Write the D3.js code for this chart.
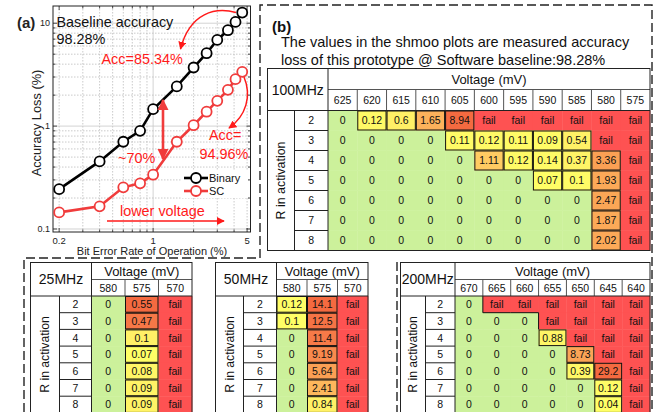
<!DOCTYPE html>
<html><head><meta charset="utf-8">
<script src="https://cdn.jsdelivr.net/npm/d3@7"></script>
<style>
html,body{margin:0;padding:0;background:#fff;}
svg{display:block;font-family:"Liberation Sans",Arial,sans-serif;}
</style></head>
<body>
<svg id="chart" width="659" height="412"></svg>
<script>
// ---------- Data: panel (a) ----------
const berX = [0.2, 0.4, 0.6, 0.8, 1.0, 1.5, 2.0, 2.5, 3.0, 3.6, 4.1, 4.6];
const lossBinary = [0.244, 0.454, 0.705, 0.90, 1.46, 2.43, 3.71, 5.11, 6.88, 8.55, 10.3, 12.7];
const lossSC = [0.145, 0.166, 0.254, 0.278, 0.337, 0.705, 1.02, 1.38, 1.76, 2.25, 2.86, 3.37];
const xTickLabels = [0.2, 1, 5];
const yTickLabels = [0.1, 1, 10];
const seriesNames = ["Binary", "SC"];

// ---------- Data: panel (b) shmoo tables ----------
const F = "fail";
const rowsR = [2, 3, 4, 5, 6, 7, 8];
const volt100 = [625, 620, 615, 610, 605, 600, 595, 590, 585, 580, 575];
const loss100 = [
  [0, 0.12, 0.6, 1.65, 8.94, F, F, F, F, F, F],
  [0, 0, 0, 0, 0.11, 0.12, 0.11, 0.09, 0.54, F, F],
  [0, 0, 0, 0, 0, 1.11, 0.12, 0.14, 0.37, 3.36, F],
  [0, 0, 0, 0, 0, 0, 0, 0.07, 0.1, 1.93, F],
  [0, 0, 0, 0, 0, 0, 0, 0, 0, 2.47, F],
  [0, 0, 0, 0, 0, 0, 0, 0, 0, 1.87, F],
  [0, 0, 0, 0, 0, 0, 0, 0, 0, 2.02, F]
];
const volt25 = [580, 575, 570];
const loss25 = [
  [0, 0.55, F], [0, 0.47, F], [0, 0.1, F], [0, 0.07, F], [0, 0.08, F], [0, 0.09, F], [0, 0.09, F]
];
const volt50 = [580, 575, 570];
const loss50 = [
  [0.12, 14.1, F], [0.1, 12.5, F], [0, 11.4, F], [0, 9.19, F], [0, 5.64, F], [0, 2.41, F], [0, 0.84, F]
];
const volt200 = [670, 665, 660, 655, 650, 645, 640];
const loss200 = [
  [0, F, F, F, F, F, F],
  [0, 0, 0, F, F, F, F],
  [0, 0, 0, 0.88, F, F, F],
  [0, 0, 0, 0, 8.73, F, F],
  [0, 0, 0, 0, 0.39, 29.2, F],
  [0, 0, 0, 0, 0, 0.12, F],
  [0, 0, 0, 0, 0, 0.04, F]
];

const svg = d3.select("#chart");
const RED = "#ff1a1a", SCRED = "#f03c3c";

// ---------- defs ----------
const defs = svg.append("defs");
function marker(id, color, w, h, orient) {
  defs.append("marker").attr("id", id).attr("viewBox", "0 0 10 10")
    .attr("refX", 9).attr("refY", 5).attr("markerUnits", "userSpaceOnUse")
    .attr("markerWidth", w).attr("markerHeight", h).attr("orient", orient || "auto")
    .append("path").attr("d", "M0,0 L10,5 L0,10 Z").attr("fill", color);
}
marker("arrRed", RED, 8, 8);
marker("arrBig", SCRED, 11, 12, "auto-start-reverse");

// ---------- Dashed frames ----------
const dash = svg.append("g").attr("fill", "none").attr("stroke", "#222")
  .attr("stroke-width", 1.4).attr("stroke-dasharray", "9,4");
dash.append("path").attr("d", "M24,412 V258 H260 V5 H652 V412");
dash.append("path").attr("d", "M397,262 V412");

// ---------- Panel (a) ----------
const pa = { l: 53, r: 250.5, t: 6, b: 232 };
const x = d3.scaleLog().domain([0.18, 5.3]).range([pa.l, pa.r]);
const y = d3.scaleLog().domain([0.0935, 14.7]).range([pa.b, pa.t]);
const ga = svg.append("g");

const minorX = [0.2,0.3,0.4,0.5,0.6,0.7,0.8,0.9,1,2,3,4,5];
const minorY = [0.1,0.2,0.3,0.4,0.5,0.6,0.7,0.8,0.9,1,2,3,4,5,6,7,8,9,10];
ga.selectAll(".gx").data(minorX).join("line")
  .attr("x1", d => x(d)).attr("x2", d => x(d)).attr("y1", pa.t).attr("y2", pa.b)
  .attr("stroke", d => d === 1 ? "#c8c8c8" : "#bdbdbd").attr("stroke-width", 0.8)
  .attr("stroke-dasharray", d => d === 1 ? null : "1.5,1.5");
ga.selectAll(".gy").data(minorY).join("line")
  .attr("y1", d => y(d)).attr("y2", d => y(d)).attr("x1", pa.l).attr("x2", pa.r)
  .attr("stroke", d => (d === 1 || d === 10 || d === 0.1) ? "#c8c8c8" : "#bdbdbd").attr("stroke-width", 0.8)
  .attr("stroke-dasharray", d => (d === 1 || d === 10 || d === 0.1) ? null : "1.5,1.5");

// ticks (inside, both sides)
const tk = ga.append("g").attr("stroke", "#222").attr("stroke-width", 0.8);
minorX.forEach(d => {
  const L = xTickLabels.includes(d) ? 4 : 2.5;
  tk.append("line").attr("x1", x(d)).attr("x2", x(d)).attr("y1", pa.b).attr("y2", pa.b - L);
  tk.append("line").attr("x1", x(d)).attr("x2", x(d)).attr("y1", pa.t).attr("y2", pa.t + L);
});
minorY.forEach(d => {
  const L = yTickLabels.includes(d) ? 4 : 2.5;
  tk.append("line").attr("y1", y(d)).attr("y2", y(d)).attr("x1", pa.l).attr("x2", pa.l + L);
  tk.append("line").attr("y1", y(d)).attr("y2", y(d)).attr("x1", pa.r).attr("x2", pa.r - L);
});
ga.append("rect").attr("x", pa.l).attr("y", pa.t).attr("width", pa.r - pa.l).attr("height", pa.b - pa.t)
  .attr("fill", "none").attr("stroke", "#222").attr("stroke-width", 1);

ga.selectAll(".xl").data(xTickLabels).join("text")
  .attr("x", d => x(d)).attr("y", 244).attr("text-anchor", "middle")
  .attr("font-size", 9.5).attr("fill", "#222").text(d => d);
ga.selectAll(".yl").data(yTickLabels).join("text")
  .attr("x", 50).attr("y", d => y(d) + 3.2).attr("text-anchor", "end")
  .attr("font-size", 9).attr("fill", "#222").text(d => d);
ga.append("text").attr("x", 152).attr("y", 254.5).attr("text-anchor", "middle")
  .attr("font-size", 11).attr("fill", "#222").text("Bit Error Rate of Operation (%)");
ga.append("text").attr("transform", "translate(41,123) rotate(-90)").attr("text-anchor", "middle")
  .attr("font-size", 12.8).attr("fill", "#222").text("Accuracy Loss (%)");
ga.append("text").attr("x", 17).attr("y", 28).attr("font-size", 15).attr("font-weight", "bold")
  .attr("fill", "#222").text("(a)");

// series
const line = d3.line().x(d => x(d[0])).y(d => y(d[1]));
const series = [
  { name: seriesNames[0], vals: lossBinary, color: "#000" },
  { name: seriesNames[1], vals: lossSC, color: SCRED }
];
series.forEach(s => {
  const pts = berX.map((v, i) => [v, s.vals[i]]);
  ga.append("path").datum(pts).attr("d", line).attr("fill", "none")
    .attr("stroke", s.color).attr("stroke-width", 2.6);
  ga.selectAll(null).data(pts).join("circle")
    .attr("cx", d => x(d[0])).attr("cy", d => y(d[1])).attr("r", 5)
    .attr("fill", "#fff").attr("stroke", s.color).attr("stroke-width", 1.8);
});

// annotations
ga.append("text").attr("x", 56.5).attr("y", 26.5).attr("font-size", 14.4).attr("fill", "#111").text("Baseline accuracy");
ga.append("text").attr("x", 56.5).attr("y", 43.5).attr("font-size", 14.4).attr("fill", "#111").text("98.28%");
ga.append("text").attr("x", 101.5).attr("y", 63.5).attr("font-size", 14.4).attr("fill", RED).text("Acc=85.34%");
ga.append("text").attr("x", 209).attr("y", 140).attr("font-size", 14.4).attr("fill", RED).text("Acc=");
ga.append("text").attr("x", 199.5).attr("y", 158.5).attr("font-size", 14.4).attr("fill", RED).text("94.96%");
ga.append("text").attr("x", 118).attr("y", 163).attr("font-size", 14.4).attr("fill", RED).text("~70%");
ga.append("path").attr("d", "M236,12.5 C216,7 190,12 180.5,49").attr("fill", "none")
  .attr("stroke", RED).attr("stroke-width", 1.5).attr("marker-end", "url(#arrRed)");
ga.append("path").attr("d", "M244,77 C252,96 246,116 229,128").attr("fill", "none")
  .attr("stroke", RED).attr("stroke-width", 1.5).attr("marker-end", "url(#arrRed)");
ga.append("line").attr("x1", 163).attr("x2", 163).attr("y1", 100).attr("y2", 159)
  .attr("stroke", SCRED).attr("stroke-width", 2.6)
  .attr("marker-start", "url(#arrBig)").attr("marker-end", "url(#arrBig)");

// legend
ga.append("rect").attr("x", 182).attr("y", 170).attr("width", 66).attr("height", 28).attr("fill", "#fff");
series.forEach((s, i) => {
  const ly = 178 + i * 13;
  ga.append("line").attr("x1", 184).attr("x2", 208).attr("y1", ly).attr("y2", ly)
    .attr("stroke", s.color).attr("stroke-width", 2.6);
  ga.append("circle").attr("cx", 196).attr("cy", ly).attr("r", 5).attr("fill", "#fff")
    .attr("stroke", s.color).attr("stroke-width", 1.8);
  ga.append("text").attr("x", 209).attr("y", ly + 4).attr("font-size", 11).attr("fill", "#111").text(s.name);
});

// lower voltage (drawn after lines)
ga.append("text").attr("x", 120).attr("y", 216).attr("font-size", 14.4).attr("fill", RED).text("lower voltage");
ga.append("line").attr("x1", 107).attr("x2", 224).attr("y1", 221).attr("y2", 221)
  .attr("stroke", RED).attr("stroke-width", 1.6).attr("marker-end", "url(#arrRed)");

// ---------- Panel (b) ----------
svg.append("text").attr("x", 272).attr("y", 32).attr("font-size", 15).attr("font-weight", "bold").attr("fill", "#111").text("(b)");
svg.append("text").attr("x", 281).attr("y", 47).attr("font-size", 14.5).attr("fill", "#111")
  .text("The values in the shmoo plots are measured accuracy");
svg.append("text").attr("x", 281).attr("y", 64.5).attr("font-size", 14.5).attr("fill", "#111")
  .text("loss of this prototype @ Software baseline:98.28%");

const GREEN = "#ccf19b", FAILC = "#fe5252";
const heat = d3.scaleLinear().domain([0, 0.25, 0.35, 0.45, 0.7, 0.9, 1])
  .range(["#ffff66", "#fff066", "#ffc862", "#fcaa58", "#fa9a52", "#f67a48", "#f46a40"]).clamp(true);

function drawTable(o) {
  const g = svg.append("g");
  const dataTop = o.y0 + o.h1 + o.h2;
  const bottom = dataTop + o.rows.length * o.rowH;
  const col = d3.scaleBand().domain(o.volts).range([o.x0 + o.hdrW, o.x1]);
  const row = d3.scaleBand().domain(o.rows).range([dataTop, bottom]);
  const nums = o.data.flat().filter(v => typeof v === "number" && v > 0);
  const mn = d3.min(nums), mx = d3.max(nums);
  const fillOf = v => v === F ? FAILC : (v === 0 ? GREEN : heat(Math.sqrt((v - mn) / (mx - mn))));
  const cells = [];
  o.data.forEach((r, i) => r.forEach((v, j) => cells.push({ v, i, j })));
  g.selectAll(".c").data(cells).join("rect")
    .attr("x", d => col(o.volts[d.j])).attr("y", d => row(o.rows[d.i]))
    .attr("width", col.bandwidth() + 0.4).attr("height", row.bandwidth() + 0.4)
    .attr("fill", d => fillOf(d.v));
  g.selectAll(".cb").data(cells.filter(d => d.v !== 0 && d.v !== F)).join("rect")
    .attr("x", d => col(o.volts[d.j]) + 0.5).attr("y", d => row(o.rows[d.i]) + 0.5)
    .attr("width", col.bandwidth() - 1).attr("height", row.bandwidth() - 1)
    .attr("fill", "none").attr("stroke", "#111").attr("stroke-width", 1);
  const get = (i, j) => (o.data[i] !== undefined ? o.data[i][j] : undefined);
  cells.filter(d => d.v === F).forEach(d => {
    const cx = col(o.volts[d.j]), cy = row(o.rows[d.i]), w = col.bandwidth(), h = row.bandwidth();
    if (get(d.i + 1, d.j) === 0) g.append("line").attr("x1", cx).attr("x2", cx + w).attr("y1", cy + h).attr("y2", cy + h).attr("stroke", "#111");
    if (get(d.i, d.j - 1) === 0) g.append("line").attr("x1", cx).attr("x2", cx).attr("y1", cy).attr("y2", cy + h).attr("stroke", "#111");
  });
  g.selectAll(".ct").data(cells).join("text")
    .attr("x", d => col(o.volts[d.j]) + col.bandwidth() / 2)
    .attr("y", d => row(o.rows[d.i]) + row.bandwidth() / 2 + o.fs * 0.36)
    .attr("text-anchor", "middle").attr("font-size", o.fs).attr("fill", "#111")
    .text(d => d.v);
  const L = (x1, y1, x2, y2, c) => g.append("line").attr("x1", x1).attr("y1", y1).attr("x2", x2).attr("y2", y2)
    .attr("stroke", c || "#222").attr("stroke-width", 1);
  L(o.x0 + o.hdrW, o.y0 + o.h1, o.x1, o.y0 + o.h1, "#555");
  o.volts.slice(1).forEach(v => L(col(v), o.y0 + o.h1, col(v), dataTop, "#555"));
  L(o.x0, dataTop, o.x1, dataTop);
  L(o.x0 + o.hdrW, o.y0, o.x0 + o.hdrW, bottom);
  L(o.x0 + o.lblW, dataTop, o.x0 + o.lblW, bottom);
  o.rows.slice(1).forEach(r => L(o.x0 + o.lblW, row(r), o.x0 + o.hdrW, row(r)));
  g.append("rect").attr("x", o.x0).attr("y", o.y0).attr("width", o.x1 - o.x0).attr("height", bottom - o.y0)
    .attr("fill", "none").attr("stroke", "#222").attr("stroke-width", 1);
  g.append("text").attr("x", o.x0 + o.hdrW / 2).attr("y", (o.y0 + dataTop) / 2 + o.tfs * 0.36)
    .attr("text-anchor", "middle").attr("font-size", o.tfs).attr("fill", "#111").text(o.title);
  g.append("text").attr("x", (o.x0 + o.hdrW + o.x1) / 2).attr("y", o.y0 + o.h1 / 2 + o.vfs * 0.36)
    .attr("text-anchor", "middle").attr("font-size", o.vfs).attr("fill", "#111").text("Voltage (mV)");
  g.selectAll(".vh").data(o.volts).join("text")
    .attr("x", v => col(v) + col.bandwidth() / 2).attr("y", o.y0 + o.h1 + o.h2 / 2 + o.fs * 0.36)
    .attr("text-anchor", "middle").attr("font-size", o.fs).attr("fill", "#111").text(v => v);
  g.selectAll(".rh").data(o.rows).join("text")
    .attr("x", o.x0 + (o.lblW + o.hdrW) / 2).attr("y", r => row(r) + row.bandwidth() / 2 + o.fs * 0.36)
    .attr("text-anchor", "middle").attr("font-size", o.fs).attr("fill", "#111").text(r => r);
  g.append("text")
    .attr("transform", `translate(${o.x0 + o.lblW / 2 + o.rfs * 0.36},${(dataTop + bottom) / 2}) rotate(-90)`)
    .attr("text-anchor", "middle").attr("font-size", o.rfs).attr("fill", "#111").text("R in activation");
}

drawTable({ title: "100MHz", volts: volt100, rows: rowsR, data: loss100,
  x0: 267.5, x1: 650, y0: 68.5, hdrW: 60.5, lblW: 27, h1: 21, h2: 21, rowH: 20,
  fs: 10.5, tfs: 14, vfs: 13, rfs: 12.4 });
drawTable({ title: "25MHz", volts: volt25, rows: rowsR, data: loss25,
  x0: 30.5, x1: 192, y0: 262.5, hdrW: 61, lblW: 29, h1: 17, h2: 16.5, rowH: 16.7,
  fs: 10.5, tfs: 14, vfs: 13, rfs: 12.2 });
drawTable({ title: "50MHz", volts: volt50, rows: rowsR, data: loss50,
  x0: 215.5, x1: 368, y0: 262.5, hdrW: 61, lblW: 28, h1: 17, h2: 16.5, rowH: 16.7,
  fs: 10.5, tfs: 14, vfs: 13, rfs: 12.2 });
drawTable({ title: "200MHz", volts: volt200, rows: rowsR, data: loss200,
  x0: 400.5, x1: 650, y0: 262.5, hdrW: 54.5, lblW: 25, h1: 17, h2: 16.5, rowH: 16.7,
  fs: 10.5, tfs: 14, vfs: 13, rfs: 12.2 });
</script>
</body></html>
